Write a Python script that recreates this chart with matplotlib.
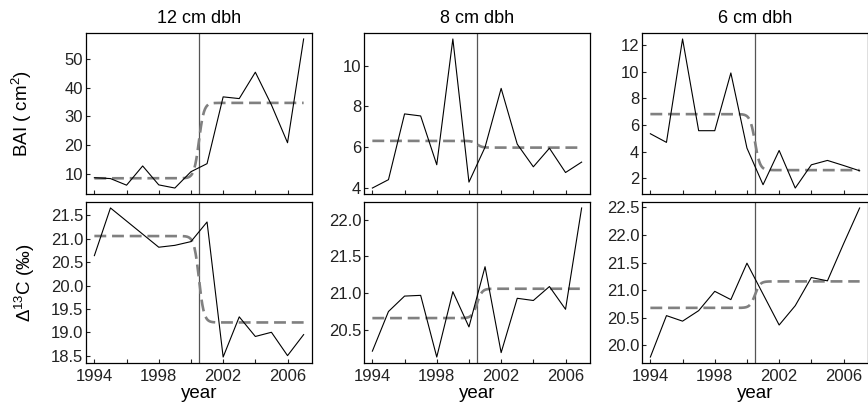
import numpy as np
import matplotlib
matplotlib.use('Agg')
import matplotlib.pyplot as plt

plt.rcParams['font.family'] = ['Liberation Sans', 'DejaVu Sans']
plt.rcParams['mathtext.fontset'] = 'custom'
plt.rcParams['mathtext.rm'] = 'Liberation Sans'
plt.rcParams['mathtext.it'] = 'Liberation Sans:italic'

years = list(range(1994, 2008))
titles = ['12 cm dbh', '8 cm dbh', '6 cm dbh']

# BAI (cm2)
bai_12 = [8.6, 8.3, 6.0, 12.7, 6.1, 5.0, 10.7, 13.5, 36.8, 36.2, 45.4, 34.0, 20.8, 57.0]
bai_8 = [4.0, 4.41, 7.63, 7.53, 5.14, 11.3, 4.29, 6.0, 8.88, 6.15, 5.04, 5.95, 4.76, 5.27]
bai_6 = [5.34, 4.69, 12.48, 5.57, 5.57, 9.92, 4.26, 1.5, 4.08, 1.25, 3.0, 3.33, 2.95, 2.55]

# Delta 13C (per mil)
d13c_12 = [20.64, 21.66, 21.38, 21.1, 20.82, 20.86, 20.94, 21.36, 18.47, 19.33, 18.91, 19.0, 18.5, 18.95]
d13c_8 = [20.21, 20.75, 20.96, 20.97, 20.13, 21.02, 20.54, 21.36, 20.19, 20.93, 20.9, 21.09, 20.78, 22.16]
d13c_6 = [19.79, 20.54, 20.44, 20.63, 20.98, 20.83, 21.49, 20.93, 20.37, 20.72, 21.23, 21.17, 21.84, 22.49]

# fitted step levels (before, after) and breakpoint
bai_levels = [(8.4, 34.7), (6.31, 5.98), (6.82, 2.6)]
d13c_levels = [(21.06, 19.21), (20.66, 21.06), (20.68, 21.16)]
breakpoint = 2000.5

bai_ticks = [[10, 20, 30, 40, 50], [4, 6, 8, 10], [2, 4, 6, 8, 10, 12]]
d13c_ticks = [[18.5, 19.0, 19.5, 20.0, 20.5, 21.0, 21.5],
              [20.5, 21.0, 21.5, 22.0],
              [20.0, 20.5, 21.0, 21.5, 22.0, 22.5]]

W, H = 868, 408
fig = plt.figure(figsize=(W / 100, H / 100), dpi=100)

lefts = [86, 364, 642]
width = 226
rows_top = [33, 202]
height = 161

t = np.linspace(1994, 2007, 600)


def draw(ax, y, levels, ticks, fmt):
    ax.plot(years, y, color='black', lw=0.8, zorder=3)
    b, a = levels
    w = 1.0 / (1.0 + np.exp(-(t - breakpoint) * 6.5))
    ax.plot(t, b + (a - b) * w, color='#808080', lw=1.9, dashes=(4.5, 2.2), zorder=2)
    ax.axvline(breakpoint, color='#555555', lw=0.9, zorder=1)
    lo, hi = min(y), max(y)
    pad = (hi - lo) * 0.04
    ax.set_ylim(lo - pad, hi + pad)
    ax.set_xlim(1994 - 13 * 0.04, 2007 + 13 * 0.04)
    ax.set_yticks(ticks)
    ax.set_yticklabels([fmt.format(v) for v in ticks])
    ax.set_xticks([1994, 1996, 1998, 2000, 2002, 2004, 2006])
    ax.tick_params(direction='in', length=3, width=0.8, labelsize=12, pad=2,
                   colors='#222222')
    ax.tick_params(axis='x', pad=4)
    for s in ax.spines.values():
        s.set_linewidth(0.9)


for j in range(3):
    ax1 = fig.add_axes([lefts[j] / W, 1 - (rows_top[0] + height) / H, width / W, height / H])
    draw(ax1, [bai_12, bai_8, bai_6][j], bai_levels[j], bai_ticks[j], '{:g}')
    ax1.set_xticklabels([])
    ax1.set_title(titles[j], fontsize=13, pad=7)

    ax2 = fig.add_axes([lefts[j] / W, 1 - (rows_top[1] + height) / H, width / W, height / H])
    draw(ax2, [d13c_12, d13c_8, d13c_6][j], d13c_levels[j], d13c_ticks[j], '{:.1f}')
    ax2.set_xticklabels(['1994', '', '1998', '', '2002', '', '2006'])
    ax2.set_xlabel('year', fontsize=13.5, labelpad=1)

    if j == 0:
        ax1.set_ylabel('BAI ( cm$^2$)', fontsize=13.5, labelpad=22)
        ax2.set_ylabel('Δ$^{13}$C (‰)', fontsize=13.5, labelpad=10)

fig.savefig('out.png', dpi=100)
